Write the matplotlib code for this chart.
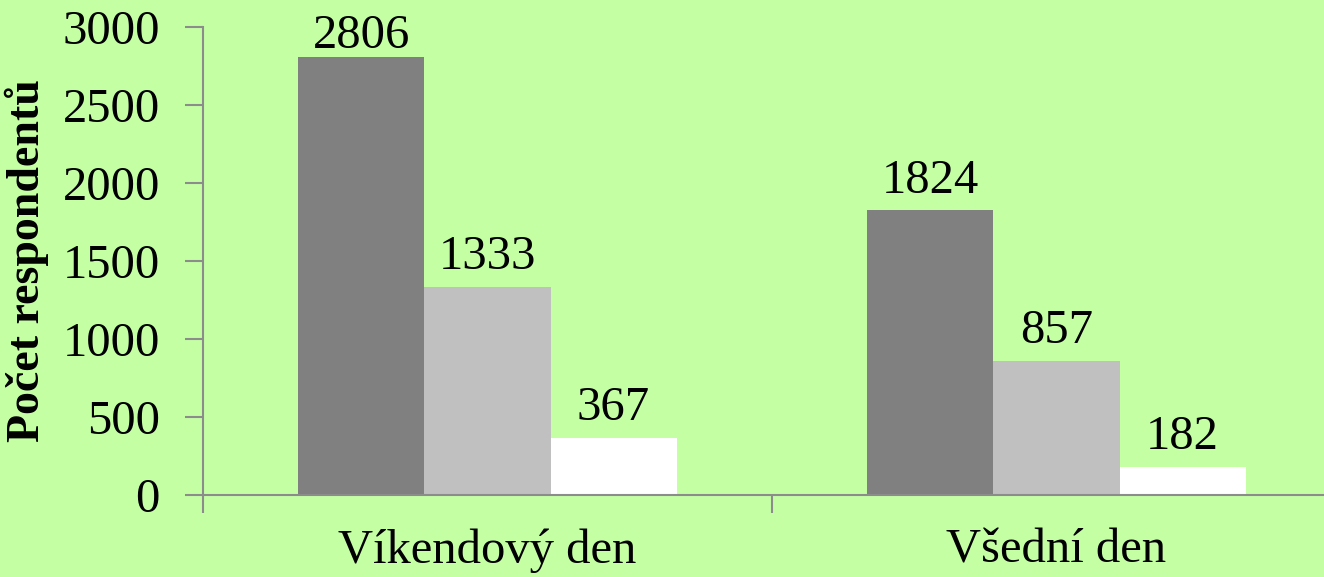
import numpy as np
import matplotlib
matplotlib.use('Agg')
import matplotlib.pyplot as plt

##### data
categories = ['Víkendový den', 'Všední den']
series_a = [2806, 1824]   # dark grey
series_b = [1333, 857]    # light grey
series_c = [367, 182]     # white
y_ticks = [0, 500, 1000, 1500, 2000, 2500, 3000]
y_label = 'Počet respondentů'

##### style
bg = '#c4ffa4'
axis_col = '#8c8c8c'
colors = ['#808080', '#c0c0c0', '#ffffff']
plt.rcParams['font.family'] = ['Liberation Serif', 'DejaVu Serif']
fs = 35

fig = plt.figure(figsize=(13.24, 5.77), dpi=100, facecolor=bg)
ax = fig.add_axes([203/1324, 82/577, 1138/1324, 468/577])
ax.set_facecolor(bg)

x = np.arange(len(categories))
w = 0.2215
for k, vals in enumerate([series_a, series_b, series_c]):
    bars = ax.bar(x + (k - 1)*w, vals, width=w, color=colors[k],
                  edgecolor='none', zorder=2)
    for b, v in zip(bars, vals):
        # label above the bar, kept inside the plot area like Excel does
        ax.text(b.get_x() + b.get_width()/2, min(v + 115, 2865), str(v),
                ha='center', va='baseline', fontsize=fs)

ax.set_xlim(-0.5, len(categories) - 0.5)
ax.set_ylim(0, 3000)
ax.set_yticks(y_ticks)
ax.set_xticks(np.arange(len(categories) + 1) - 0.5)
ax.set_xticklabels([])
ax.set_xticks(x, minor=True)
ax.set_xticklabels(categories, minor=True)
ax.tick_params(axis='x', which='minor', length=0, labelsize=fs, pad=24)
ax.tick_params(axis='x', which='major', length=13, width=1.5, color=axis_col)
ax.tick_params(axis='y', length=13, width=1.5, color=axis_col,
               labelsize=fs, pad=18)
ax.set_ylabel(y_label, fontsize=33, fontweight='bold', labelpad=10)

for s in ['top', 'right']:
    ax.spines[s].set_visible(False)
for s in ['left', 'bottom']:
    ax.spines[s].set_color(axis_col)
    ax.spines[s].set_linewidth(1.5)

fig.savefig('out.png', dpi=100, facecolor=bg)
